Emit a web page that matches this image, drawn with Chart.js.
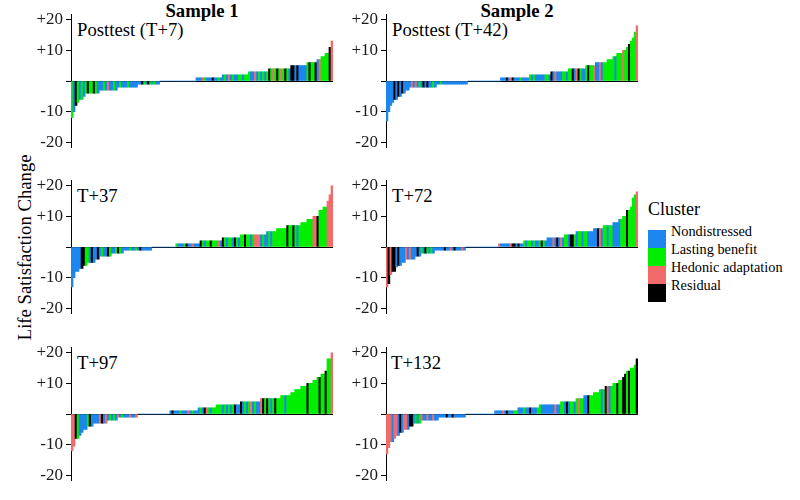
<!DOCTYPE html>
<html>
<head>
<meta charset="utf-8">
<script src="https://cdn.jsdelivr.net/npm/chart.js@4"></script>
<style>
  body { margin: 0; background: #fff; }
  #wrap { position: relative; width: 800px; height: 500px; background: #fff; font-family: "Liberation Serif", "Times New Roman", serif; color: #000; }
  canvas { position: absolute; }
  .lbl { position: absolute; white-space: nowrap; line-height: 1; }
  .title { font-weight: bold; font-size: 18.7px; width: 200px; text-align: center; }
  .panel { font-size: 18.7px; }
  .sw { position: absolute; left: 648px; width: 18px; height: 18px; }
  .item { font-size: 14.3px; left: 671px; }
</style>
</head>
<body>
<div id="wrap">
  <div class="lbl title" style="left:102px;top:2px">Sample 1</div>
  <div class="lbl title" style="left:417px;top:2px">Sample 2</div>

  <div class="lbl panel" style="left:77px;top:21px">Posttest (T+7)</div>
  <div class="lbl panel" style="left:392px;top:21px">Posttest (T+42)</div>
  <div class="lbl panel" style="left:77px;top:187px">T+37</div>
  <div class="lbl panel" style="left:392px;top:187px">T+72</div>
  <div class="lbl panel" style="left:77px;top:354px">T+97</div>
  <div class="lbl panel" style="left:391px;top:354px">T+132</div>

  <div class="lbl" style="font-size:18.7px;width:240px;text-align:center;left:-95px;top:238px;transform:rotate(-90deg)">Life Satisfaction Change</div>

  <div class="lbl" style="font-size:18px;left:648px;top:200px">Cluster</div>
  <div class="sw" style="top:229.5px;background:#1C86EE"></div>
  <div class="sw" style="top:247.5px;background:#00EE00"></div>
  <div class="sw" style="top:265.5px;background:#F26B6B"></div>
  <div class="sw" style="top:283.5px;background:#000"></div>
  <div class="lbl item" style="top:223.5px">Nondistressed</div>
  <div class="lbl item" style="top:241.5px">Lasting benefit</div>
  <div class="lbl item" style="top:259.5px">Hedonic adaptation</div>
  <div class="lbl item" style="top:277.5px">Residual</div>
</div>
<script>
// cluster codes: N = Nondistressed, L = Lasting benefit, H = Hedonic adaptation, R = Residual
const clusterColors = { N: '#1C86EE', L: '#00EE00', H: '#F26B6B', R: '#000000' };
const yTicks = [-20, -10, 0, 10, 20];

// Sample 1, Posttest (T+7)
const s1Posttest = [
  -12, -10, -8, -7, -6, -6, -5,
  -4, -4, -4, -4, -4, -4, -4,
  -3, -3, -3, -3, -3, -3, -3, -3, -3,
  -2, -2, -2, -2, -2, -2, -2, -2, -2, -2,
  -1, -1, -1, -1, -1, -1, -1, -1, -1, -1, -1,
  0, 0, 0, 0, 0, 0, 0, 0, 0, 0, 0, 0, 0, 0, 0, 0, 0, 0,
  1, 1, 1, 1, 1, 1, 1, 1, 1, 1, 1, 1, 1,
  2, 2, 2, 2, 2, 2, 2, 2, 2, 2, 2, 2, 2,
  3, 3, 3, 3, 3, 3, 3, 3, 3, 3,
  4, 4, 4, 4, 4, 4, 4, 4, 4, 4, 4,
  5, 5, 5, 5, 5, 5, 5, 5,
  6, 6, 6, 6, 6,
  7, 7, 8, 8, 9, 9, 11, 13
];
const s1PosttestCl = ["LNRLNLN", "LRLLRLN", "NNLNHNNLN", "NLNNNLNNNN", "NNRLNRLNLNN",
  "NNNNNNNNNNNNNNNNNN",
  "NNNHLNNNRNNLN", "NLNHNLNNLLNLL", "LNNHNLNLNL", "RLHLRLHLRLN", "RRNRNNNN", "LRLLR",
  "NH", "LL", "LL", "R", "H"].join("");

// Sample 2, Posttest (T+42)
const s2Posttest = [
  -13, -10, -8, -7, -6, -6, -5, -5, -4, -4, -3, -3,
  -2, -2, -2, -2, -2, -2, -2, -2, -2, -2, -2, -2, -2, -2,
  -1, -1, -1, -1, -1, -1, -1, -1, -1, -1, -1, -1, -1, -1, -1, -1,
  0, 0, 0, 0, 0, 0, 0, 0, 0, 0, 0, 0, 0, 0, 0, 0, 0,
  1, 1, 1, 1, 1, 1, 1, 1, 1, 1, 1, 1, 1, 1, 1,
  2, 2, 2, 2, 2, 2, 2, 2, 2, 2, 2,
  3, 3, 3, 3, 3, 3, 3, 3, 3,
  4, 4, 4, 4, 4, 4, 4, 4, 4,
  5, 5, 5, 5, 5,
  6, 6, 6, 6, 6, 6,
  7, 7, 7, 8, 8, 9, 9, 9, 10, 10,
  11, 12, 13, 14, 16, 18
];
const s2PosttestCl = ["NNNNRNRNRNNN", "NHNHNLNRNRNNLN", "NNLNNNNNNNNNNNNN",
  "NNNNNNNNNNNNNNNNN",
  "NNNRNHRNNNLNNNN", "LNLNNNNNLLN", "RNHNNNLLN", "LLRNHRLNN", "LRLLH", "NNHNLL",
  "LLL", "LN", "LLL", "HL", "LRLLLH"].join("");

// Sample 1, T+37
const s1T37 = [
  -13, -10, -8, -8, -7, -7, -6, -6, -5, -5, -5, -5, -4, -4,
  -3, -3, -3, -3, -3, -3,
  -2, -2, -2, -2, -2, -2,
  -1, -1, -1, -1, -1, -1, -1, -1, -1, -1, -1, -1, -1, -1,
  0, 0, 0, 0, 0, 0, 0, 0, 0, 0, 0, 0,
  1, 1, 1, 1, 1, 1, 1, 1, 1, 1, 1, 1,
  2, 2, 2, 2, 2, 2, 2, 2, 2, 2, 2,
  3, 3, 3, 3, 3, 3, 3, 3, 3,
  4, 4, 4, 4, 4, 4, 4, 4, 4, 4, 4, 4, 4,
  5, 5, 5, 5, 5,
  6, 6, 6, 6, 6,
  7, 7, 7, 7, 7, 7, 7,
  8, 8, 8, 9, 9, 9, 10, 10, 10,
  12, 12, 13, 13, 15, 17, 20
];
const s1T37Cl = ["NNNNNRRLLNRNNR", "NLNNRL", "NNLRLN", "NNNLNNLNRNNNNN",
  "NNNNNNNNNNNN",
  "LNNNLRNNHNNN", "RLNLLRLLLHN", "RLNLLNRLN", "LLRLLNLHHHNLN", "NLNLL", "LLLLL",
  "RLLRLNL", "LLL", "LLL", "HHR", "LL", "LL", "HHH"].join("");

// Sample 2, T+72
const s2T72 = [
  -13, -12, -9, -8, -8, -6.5, -6, -6, -5, -5,
  -4, -4, -4, -4, -4, -3, -3, -3,
  -2, -2, -2, -2, -2, -2, -2,
  -1, -1, -1, -1, -1, -1, -1, -1, -1, -1, -1, -1, -1, -1, -1, -1,
  0, 0, 0, 0, 0, 0, 0, 0, 0, 0, 0, 0, 0, 0, 0, 0, 0,
  1, 1, 1, 1, 1, 1, 1, 1, 1, 1, 1, 1, 1,
  2, 2, 2, 2, 2, 2, 2, 2, 2, 2, 2, 2,
  3, 3, 3, 3, 3, 3, 3, 3, 3,
  4, 4, 4, 4, 4, 4,
  5, 5, 5, 5, 5, 5, 5, 5, 5,
  6, 6, 6, 6, 6,
  7, 7, 7, 7, 7,
  8, 8, 8, 9, 9, 10, 10, 12, 12,
  13, 16, 17, 18
];
const s2T72Cl = ["HRHRRNRNNN", "HNHNN", "NRN", "LNRLNLN", "NNNNNRNNHNRNNNHN",
  "NNNNNNNNNNNNNNNNN",
  "HNNNNNHRRNRNN", "LNLLNLNNLRLN", "NNNHNRNHN", "LLNRRL", "NLLNLLNNN", "NNRHN",
  "LLNLL", "NNN", "NL", "LL", "RL", "LLLH"].join("");

// Sample 1, T+97
const s1T97 = [
  -12, -10.5, -8, -8, -7, -6, -5, -5, -4, -4, -4,
  -3, -3, -3, -3, -3, -3, -3,
  -2, -2, -2, -2, -2,
  -1, -1, -1, -1, -1, -1, -1, -1, -1, -1,
  0, 0, 0, 0, 0, 0, 0, 0, 0, 0, 0, 0, 0, 0, 0, 0,
  1, 1, 1, 1, 1, 1, 1, 1, 1, 1, 1, 1, 1, 1,
  2, 2, 2, 2, 2, 2, 2, 2, 2,
  3, 3, 3, 3, 3, 3, 3, 3, 3, 3, 3, 3,
  4, 4, 4, 4, 4, 4, 4, 4, 4, 4,
  5, 5, 5, 5, 5, 5, 5, 5, 5, 5,
  6, 6, 6, 6, 6,
  7, 7, 8, 8, 8, 9, 9, 9, 10, 10, 10,
  11, 11, 12, 12, 13, 13, 14, 18, 18, 20
];
const s1T97Cl = ["HHRLNNNNLRN", "NNNHRNH", "NLNLN", "HNLNNNHNNH",
  "NNNNNNNNNNNNNNNN",
  "NRNNNLNNNHNLNN", "NLNRHLNLL", "LLLNLNLNLRNN", "RNLNLHNLNN", "HRLRLNLRLL", "LLNLL",
  "LL", "LLL", "LLL", "RLL", "LL", "LR", "LL", "R", "LL", "H"].join("");

// Sample 2, T+132
const s2T132 = [
  -13, -11, -9, -9, -8, -7, -7, -6, -6, -5, -5, -5, -4, -4,
  -3, -3, -3, -3,
  -2, -2, -2, -2, -2, -2, -2, -2, -2,
  -1, -1, -1, -1, -1, -1, -1, -1, -1, -1, -1, -1, -1, -1,
  0, 0, 0, 0, 0, 0, 0, 0, 0, 0, 0, 0, 0, 0, 0,
  1, 1, 1, 1, 1, 1, 1, 1, 1, 1, 1, 1,
  2, 2, 2, 2, 2, 2, 2, 2, 2, 2, 2,
  3, 3, 3, 3, 3, 3, 3, 3, 3, 3, 3,
  4, 4, 4, 4, 4, 4, 4, 4,
  5, 5, 5, 5,
  6, 6, 6, 6, 6,
  7, 7, 7, 8, 8, 8, 9, 9, 9, 9, 10, 10, 10,
  11, 11, 12, 13, 14, 14, 15, 15, 16, 18
];
const s2T132Cl = ["HHHNHHNRNHHNRR", "NLNL", "HNNHNNHNN", "NNNNRNNRNNNNNN",
  "NNNNNNNNNNNNNNN",
  "NNNNHNRNNNLL", "NNNLNNRNNNL", "LNNNNNNNHNN", "LLNRNLLN", "LHLL", "NNRLL",
  "LLL", "LNL", "RHNL", "LLR", "LL", "R", "R", "LR", "LL", "L", "R"].join("");

const panels = [
  { values: s1Posttest, clusters: s1PosttestCl, left: 26, top: 1, width: 307 },
  { values: s2Posttest, clusters: s2PosttestCl, left: 341, top: 1, width: 297 },
  { values: s1T37, clusters: s1T37Cl, left: 26, top: 167, width: 307 },
  { values: s2T72, clusters: s2T72Cl, left: 341, top: 167, width: 297 },
  { values: s1T97, clusters: s1T97Cl, left: 26, top: 334, width: 307 },
  { values: s2T132, clusters: s2T132Cl, left: 341, top: 334, width: 297 }
];

const wrap = document.getElementById('wrap');
panels.forEach((p) => {
  const canvas = document.createElement('canvas');
  canvas.width = p.width;
  canvas.height = 160;
  canvas.style.left = p.left + 'px';
  canvas.style.top = p.top + 'px';
  canvas.style.width = p.width + 'px';
  canvas.style.height = '160px';
  wrap.appendChild(canvas);

  new Chart(canvas, {
    type: 'bar',
    data: {
      labels: p.values.map((_, i) => i),
      datasets: [{
        data: p.values,
        backgroundColor: p.values.map((_, i) => clusterColors[p.clusters[i]] || clusterColors.N),
        borderWidth: 0,
        barPercentage: 1,
        categoryPercentage: 1
      }]
    },
    options: {
      responsive: false,
      animation: false,
      devicePixelRatio: 1,
      layout: { padding: { top: 9, bottom: 9, left: 0, right: 0 } },
      plugins: { legend: { display: false }, tooltip: { enabled: false } },
      scales: {
        x: { display: false },
        y: {
          min: -21.8,
          max: 21.8,
          afterFit: (s) => { s.width = 45; },
          afterBuildTicks: (s) => { s.ticks = yTicks.map((v) => ({ value: v })); },
          border: { display: true, color: '#000', width: 1 },
          grid: {
            drawOnChartArea: true,
            color: (c) => (c.tick && c.tick.value === 0 ? '#000' : 'rgba(0,0,0,0)'),
            tickColor: '#000',
            tickLength: 5,
            lineWidth: 1
          },
          ticks: {
            callback: (v) => (v > 0 ? '+' + v : (v < 0 ? String(v) : '')),
            color: '#1a1a1a',
            font: { family: 'Liberation Serif', size: 17 },
            padding: 3
          }
        }
      }
    }
  });
});
</script>
</body>
</html>
